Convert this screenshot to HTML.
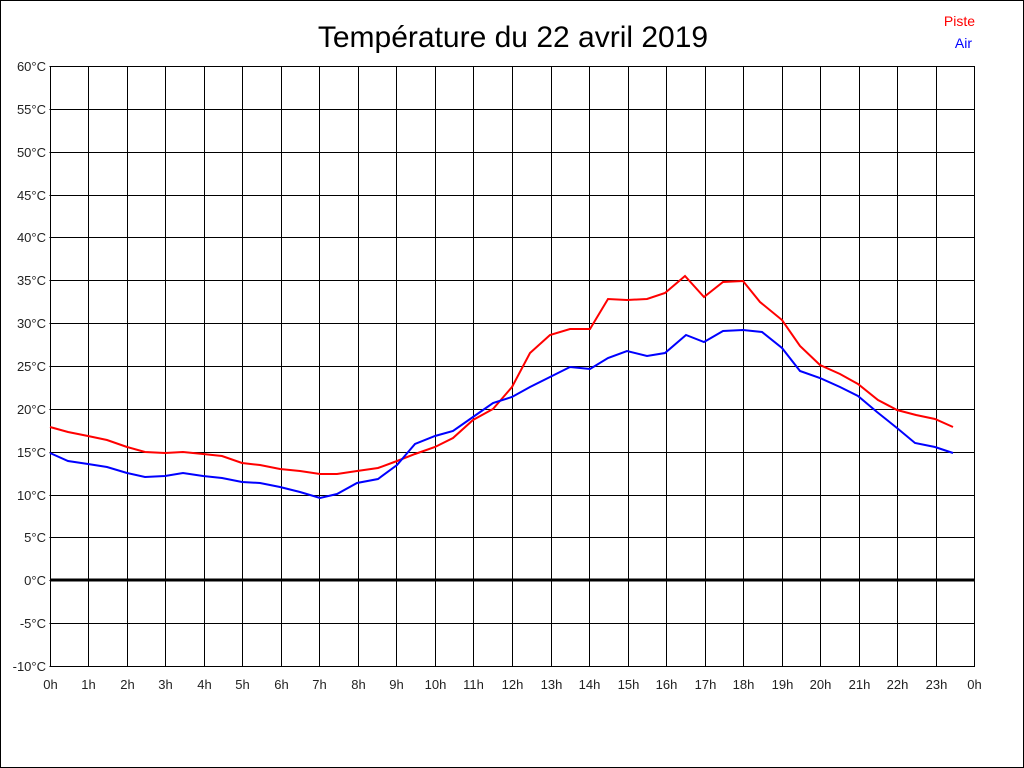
<!DOCTYPE html>
<html><head><meta charset="utf-8"><style>
html,body{margin:0;padding:0;background:#fff}
svg{display:block}
text{font-family:"Liberation Sans",Arial,sans-serif}
</style></head><body>
<svg width="1024" height="768" xmlns="http://www.w3.org/2000/svg">
<rect x="0.5" y="0.5" width="1023" height="767" fill="#fff" stroke="#000"/>
<text x="513" y="47" font-size="30" text-anchor="middle" fill="#000">Température du 22 avril 2019</text>
<text x="975" y="26" font-size="14" text-anchor="end" fill="#f00">Piste</text>
<text x="972" y="48" font-size="14" text-anchor="end" fill="#00f">Air</text>
<g id="grid" stroke="#000" stroke-width="1" shape-rendering="crispEdges"></g>
<g id="lab" font-size="13" fill="#222"></g>
<line x1="50" y1="580" x2="975" y2="580" stroke="#000" stroke-width="3"/>
<polyline fill="none" stroke="#f00" stroke-width="2" points="50,427 68,432 88,436 107,440 127,447 145,452 165,453 183,452 203,454 222,456 242,463 260,465 280,469 300,471 320,474 337,474 357,471 378,468 397,461 415,454 435,447 453,438 473,420 493,409 512,387 530,353 550,335 570,329 590,329 608,299 627,300 647,299 665,293 685,276 704,297 723,282 743,281 760,302 782,320 800,346 820,365 840,374 858,384 878,400 897,410 916,415 935,419 953,427"/>
<polyline fill="none" stroke="#00f" stroke-width="2" points="50,453 68,461 88,464 107,467 127,473 145,477 165,476 183,473 203,476 222,478 242,482 260,483 280,487 300,492 320,498 337,494 357,483 378,479 397,465 415,444 435,436 453,431 473,417 493,403 512,397 530,387 550,377 570,367 590,369 608,358 627,351 647,356 665,353 686,335 704,342 723,331 743,330 762,332 782,348 800,371 820,378 840,387 858,396 877,412 897,428 915,443 935,447 953,453"/>
</svg>
<script>
var g=document.getElementById('grid'),l=document.getElementById('lab'),ns='http://www.w3.org/2000/svg';
function el(p,t,a,tx){var e=document.createElementNS(ns,t);for(var k in a)e.setAttribute(k,a[k]);if(tx!==undefined)e.textContent=tx;p.appendChild(e);}
for(var i=0;i<=24;i++){var x=Math.round(49.5+i*38.54)+0.5;x=Math.floor(x)+0.5;el(g,'line',{x1:x,y1:66,x2:x,y2:666});el(l,'text',{x:x,y:689,'text-anchor':'middle'},(i%24)+'h');}
for(var j=0;j<=14;j++){var y=Math.round(66+j*600/14)+0.5;el(g,'line',{x1:49.5,y1:y,x2:975,y2:y});el(l,'text',{x:46,y:y+4.5,'text-anchor':'end'},(60-5*j)+'°C');}
</script>
</body></html>
